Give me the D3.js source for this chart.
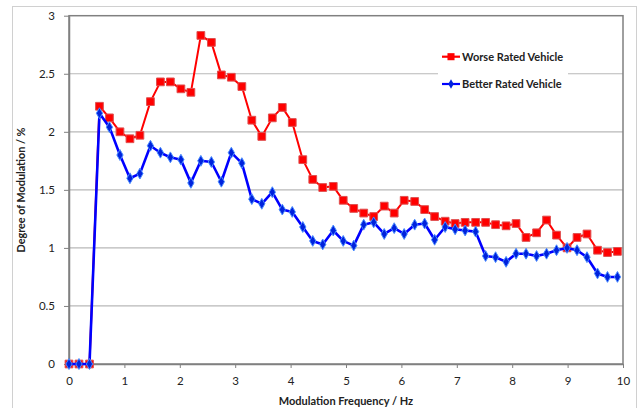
<!DOCTYPE html><meta charset="utf-8">
<title>Degree of modulation</title>
<style>
  body{margin:0;background:#fff;font-family:Lato,"Liberation Sans",sans-serif}
  svg{display:block}
</style>
<script src="https://d3js.org/d3.v7.min.js"></script>
<body><script>
const W = 639, H = 408;

// modulation frequency, Hz
const freq = [0,0.18,0.37,0.55,0.73,0.92,1.10,1.28,1.47,1.65,1.83,2.02,2.20,2.38,2.57,2.75,2.93,3.12,3.30,3.48,
  3.67,3.85,4.03,4.22,4.40,4.58,4.77,4.95,5.14,5.32,5.50,5.69,5.87,6.05,6.24,6.42,6.60,6.79,6.97,7.15,
  7.34,7.52,7.70,7.89,8.07,8.25,8.44,8.62,8.80,8.99,9.17,9.35,9.54,9.72,9.90];
// degree of modulation, %
const worse = [0,0,0,2.22,2.12,2.00,1.94,1.97,2.26,2.43,2.43,2.37,2.34,2.83,2.77,2.49,2.47,2.39,2.10,1.96,
  2.12,2.21,2.08,1.76,1.59,1.52,1.53,1.41,1.34,1.30,1.27,1.36,1.30,1.41,1.40,1.33,1.27,1.23,1.21,1.22,
  1.22,1.22,1.20,1.19,1.21,1.09,1.13,1.24,1.11,1.00,1.09,1.12,0.98,0.96,0.97];
const better = [0,0,0,2.16,2.04,1.80,1.60,1.64,1.88,1.82,1.78,1.76,1.56,1.75,1.74,1.57,1.82,1.73,1.42,1.38,
  1.48,1.33,1.31,1.18,1.06,1.03,1.15,1.06,1.02,1.20,1.22,1.12,1.17,1.12,1.20,1.21,1.07,1.18,1.16,1.15,
  1.14,0.93,0.92,0.88,0.95,0.95,0.93,0.95,0.98,1.00,0.98,0.92,0.78,0.75,0.75];
const xTicks = d3.range(0, 11, 1);
const yTicks = [0,0.5,1,1.5,2,2.5,3];
const series = [
  {name:"Worse Rated Vehicle", vals:worse, color:"#ff0000", sym:"square"},
  {name:"Better Rated Vehicle", vals:better, color:"#0000ff", sym:"diamond"}
];

const m = {l:69, r:623, t:15.7, b:364};
const x = d3.scaleLinear().domain([0,10]).range([m.l, m.r]);
const y = d3.scaleLinear().domain([0,3]).range([m.b, m.t]);

const svg = d3.select("body").append("svg").attr("width",W).attr("height",H);

// outer chart frame
svg.append("rect").attr("x",12.5).attr("y",6.5).attr("width",624).attr("height",410)
  .attr("fill","none").attr("stroke","#d0d0d0");

// gridlines
svg.append("g").selectAll("line").data(yTicks.filter(v=>v>0 && v<3)).join("line")
  .attr("x1",m.l).attr("x2",m.r).attr("y1",d=>y(d)).attr("y2",d=>y(d))
  .attr("stroke","#b8b8b8").attr("stroke-width",1.2);

// plot frame
svg.append("rect").attr("x",m.l).attr("y",m.t).attr("width",m.r-m.l).attr("height",m.b-m.t)
  .attr("fill","none").attr("stroke","#808080").attr("stroke-width",1.5);

// axes
const ax = svg.append("g").attr("transform",`translate(0,${m.b})`)
  .call(d3.axisBottom(x).tickValues(xTicks).tickFormat(d3.format("d")).tickSizeInner(4).tickSizeOuter(0).tickPadding(9));
const ay = svg.append("g").attr("transform",`translate(${m.l},0)`)
  .call(d3.axisLeft(y).tickValues(yTicks).tickFormat(d=>d).tickSizeInner(5).tickSizeOuter(0).tickPadding(9));
for (const a of [ax, ay]) {
  a.select(".domain").attr("stroke","#808080").attr("stroke-width",1.5);
  a.selectAll(".tick line").attr("stroke","#808080");
  a.selectAll("text").attr("font-family","Lato, sans-serif").attr("font-size",11.5).attr("fill","#222");
}

// series
const line = d3.line().x((d,i)=>x(freq[i])).y(d=>y(d));
for (const s of series) {
  svg.append("path").datum(s.vals).attr("d",line).attr("fill","none")
    .attr("stroke",s.color).attr("stroke-width",s.sym==="square"?2:2.6).attr("stroke-linejoin","round");
  const sym = s.sym==="square" ? d3.symbol(d3.symbolSquare, 60) : d3.symbol(d3.symbolDiamond, 34);
  svg.append("g").selectAll("path").data(s.vals).join("path")
    .attr("transform",(d,i)=>`translate(${x(freq[i])},${y(d)})`)
    .attr("d",sym)
    .attr("fill",s.sym==="square"?"#ff0000":"#0022dd")
    .attr("stroke",s.sym==="square"?"#e05050":"#4a8cff").attr("stroke-width",1);
}

// legend
const lg = svg.append("g");
lg.append("rect").attr("x",438).attr("y",42).attr("width",130).attr("height",56).attr("fill","#fff");
series.forEach((s,i)=>{
  const cy = 56.7 + i*27.3;
  lg.append("line").attr("x1",442).attr("x2",460).attr("y1",cy).attr("y2",cy)
    .attr("stroke",s.color).attr("stroke-width",2.2);
  lg.append("path").attr("transform",`translate(451,${cy})`)
    .attr("d", s.sym==="square" ? d3.symbol(d3.symbolSquare, 50)() : d3.symbol(d3.symbolDiamond, 26)())
    .attr("fill",s.sym==="square"?"#ff0000":"#0022dd");
  lg.append("text").attr("x",462).attr("y",cy).attr("dy","0.35em")
    .attr("font-size",11).attr("font-weight","bold").attr("fill","#222").text(s.name);
});

// axis titles
svg.append("text").attr("x",346).attr("y",401).attr("dy","0.35em").attr("text-anchor","middle")
  .attr("font-size",11).attr("font-weight","bold").attr("fill","#222").text("Modulation Frequency / Hz");
svg.append("text").attr("transform","translate(21,190) rotate(-90)").attr("dy","0.35em")
  .attr("text-anchor","middle").attr("font-size",10.8).attr("font-weight","bold").attr("fill","#222")
  .text("Degree of Modulation / %");
</script>
